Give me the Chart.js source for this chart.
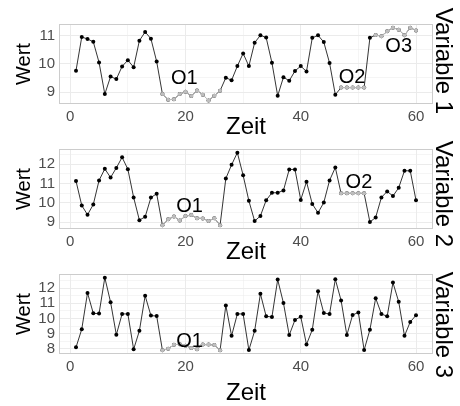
<!DOCTYPE html>
<html>
<head>
<meta charset="utf-8">
<script src="https://cdn.jsdelivr.net/npm/chart.js@4"></script>
<style>
  html, body { margin: 0; padding: 0; background: #fff; }
  #wrap { position: relative; width: 460px; height: 406px; overflow: hidden; }
  canvas { position: absolute; left: 0; }
</style>
</head>
<body>
<div id="wrap">
  <canvas id="c1" width="460" height="140" style="top:0px"></canvas>
  <canvas id="c2" width="460" height="140" style="top:125px"></canvas>
  <canvas id="c3" width="460" height="156" style="top:250px"></canvas>
</div>
<script>
// time axis
const zeit = [1,2,3,4,5,6,7,8,9,10,11,12,13,14,15,16,17,18,19,20,
              21,22,23,24,25,26,27,28,29,30,31,32,33,34,35,36,37,38,39,40,
              41,42,43,44,45,46,47,48,49,50,51,52,53,54,55,56,57,58,59,60];

// series values
const variable1 = [9.76,10.95,10.88,10.78,10.05,8.93,9.55,9.46,9.91,10.13,
                   9.88,10.82,11.13,10.89,10.08,8.93,8.73,8.75,8.93,9.01,
                   8.86,9.06,8.91,8.70,8.87,9.05,9.51,9.42,9.92,10.37,
                   9.92,10.75,11.01,10.93,10.04,8.87,9.53,9.40,9.75,9.92,
                   9.73,10.92,11.01,10.77,10.03,8.91,9.16,9.16,9.16,9.16,
                   9.16,10.92,11.02,10.98,11.15,11.28,11.21,11.01,11.28,11.18];
const variable2 = [11.13,9.86,9.38,9.91,11.16,11.76,11.31,11.81,12.36,11.74,
                   10.28,9.10,9.27,10.27,10.47,8.83,9.14,9.29,9.08,9.31,
                   9.36,9.20,9.19,9.05,9.20,8.84,11.26,11.97,12.60,11.43,
                   10.10,9.05,9.32,10.13,10.52,10.52,10.64,11.73,11.73,10.15,
                   11.09,9.94,9.48,10.01,11.16,11.83,10.49,10.49,10.49,10.49,
                   10.49,9.00,9.24,10.28,10.59,10.35,10.78,11.66,11.66,10.13];
const variable3 = [8.09,9.29,11.69,10.34,10.32,12.70,11.08,8.92,10.30,10.30,
                   7.96,9.18,11.50,10.19,10.16,7.89,8.00,8.26,8.30,8.20,
                   8.05,7.97,8.27,8.27,8.25,7.90,10.86,8.85,10.30,10.30,
                   7.91,9.18,11.63,10.14,10.10,12.57,11.02,8.90,9.90,10.12,
                   8.28,9.25,11.80,10.36,10.30,12.59,11.19,8.90,10.23,10.40,
                   7.91,9.25,11.34,10.30,10.14,12.37,11.10,8.85,9.77,10.21];

// outlier segments (start, end in Zeit)
const ausreisser1 = [[16, 26], [47, 51], [53, 60]];
const ausreisser2 = [[16, 26], [47, 51]];
const ausreisser3 = [[16, 26]];

// outlier labels
const labelText1 = ["O1", "O2", "O3"];
const labelX1 = [19.8, 48.9, 57.0];
const labelY1 = [9.49, 9.53, 10.61];
const labelText2 = ["O1", "O2"];
const labelX2 = [20.7, 50.1];
const labelY2 = [9.80, 11.05];
const labelText3 = ["O1"];
const labelX3 = [20.7];
const labelY3 = [8.50];

// axes
const xRange = [-1.95, 62.95];
const xMajor = [0, 20, 40, 60];
const xMinor = [10, 30, 50];
const yRange1 = [8.58, 11.41];
const yMajor1 = [9, 10, 11];
const yMinor1 = [9.5, 10.5];
const yRange2 = [8.64, 12.79];
const yMajor2 = [9, 10, 11, 12];
const yMinor2 = [9.5, 10.5, 11.5, 12.5];
const yRange3 = [7.65, 12.94];
const yMajor3 = [8, 9, 10, 11, 12];
const yMinor3 = [8.5, 9.5, 10.5, 11.5, 12.5];

const FONT = '"Liberation Sans", Arial, Helvetica, sans-serif';

const panelPlugin = {
    id: "panel",
    afterDatasetsDraw(chart, args, opts) {
        const { ctx, chartArea: a, scales: { x, y } } = chart;
        ctx.save();
        ctx.strokeStyle = "#cccccc";
        ctx.lineWidth = 1;
        ctx.strokeRect(a.left + 0.5, a.top + 0.5, a.right - a.left - 1, a.bottom - a.top - 1);

        ctx.fillStyle = "#000";
        ctx.textAlign = "center";
        ctx.textBaseline = "middle";
        ctx.font = "20px " + FONT;
        opts.texts.forEach((t, i) => {
            ctx.fillText(t, x.getPixelForValue(opts.xs[i]), y.getPixelForValue(opts.ys[i]));
        });

        // strip label on the right
        ctx.font = "24px " + FONT;
        ctx.translate(443, opts.stripY);
        ctx.rotate(Math.PI / 2);
        ctx.fillText(opts.strip, 0, 0);
        ctx.restore();
    }
};

function inSegments(t, segs) {
    return segs.some(s => t >= s[0] && t <= s[1]);
}

function makeChart(id, values, segs, yRange, yMajor, yMinor, texts, xs, ys, strip, stripY, xAxisHeight) {
    const main = zeit.map((t, i) => ({ x: t, y: values[i] }));
    const grey = zeit.map((t, i) => ({ x: t, y: inSegments(t, segs) ? values[i] : null }));

    return new Chart(document.getElementById(id), {
        type: "line",
        data: {
            datasets: [
                {
                    data: grey,
                    borderColor: "#bebebe",
                    backgroundColor: "#bebebe",
                    borderWidth: 1,
                    pointRadius: 2,
                    pointBorderWidth: 0,
                    spanGaps: false,
                    order: 0
                },
                {
                    data: main,
                    borderColor: "#000",
                    backgroundColor: "#000",
                    borderWidth: 0.8,
                    pointRadius: 2,
                    pointBorderWidth: 0,
                    order: 1
                }
            ]
        },
        options: {
            responsive: false,
            devicePixelRatio: 1,
            animation: false,
            events: [],
            layout: { padding: { left: 0, right: 27, top: 24, bottom: 0 } },
            plugins: {
                legend: { display: false },
                tooltip: { enabled: false },
                panel: { texts, xs, ys, strip, stripY }
            },
            scales: {
                x: {
                    type: "linear",
                    min: xRange[0],
                    max: xRange[1],
                    afterBuildTicks: s => { s.ticks = xMajor.concat(xMinor).sort((a, b) => a - b).map(v => ({ value: v })); },
                    afterFit: s => { s.height = xAxisHeight; },
                    grid: {
                        color: "#ebebeb",
                        lineWidth: c => xMinor.includes(c.tick.value) ? 0.5 : 1,
                        drawTicks: false
                    },
                    border: { display: false },
                    ticks: {
                        autoSkip: false,
                        maxRotation: 0,
                        padding: 4,
                        color: "#4d4d4d",
                        font: { family: FONT, size: 15 },
                        callback: v => xMajor.includes(v) ? String(v) : ""
                    },
                    title: {
                        display: true,
                        text: "Zeit",
                        color: "#000",
                        font: { family: FONT, size: 24 },
                        padding: { top: 0, bottom: -2 }
                    }
                },
                y: {
                    type: "linear",
                    min: yRange[0],
                    max: yRange[1],
                    afterBuildTicks: s => { s.ticks = yMajor.concat(yMinor).sort((a, b) => a - b).map(v => ({ value: v })); },
                    afterFit: s => { s.width = 59; },
                    grid: {
                        color: "#ebebeb",
                        lineWidth: c => yMinor.includes(c.tick.value) ? 0.5 : 1,
                        drawTicks: false
                    },
                    border: { display: false },
                    ticks: {
                        autoSkip: false,
                        padding: 4,
                        color: "#4d4d4d",
                        font: { family: FONT, size: 15 },
                        callback: v => yMajor.includes(v) ? String(v) : ""
                    },
                    title: {
                        display: true,
                        text: "Wert",
                        color: "#000",
                        font: { family: FONT, size: 20 },
                        padding: { top: 12, bottom: 0 }
                    }
                }
            }
        },
        plugins: [panelPlugin]
    });
}

makeChart("c1", variable1, ausreisser1, yRange1, yMajor1, yMinor1, labelText1, labelX1, labelY1, "Variable 1", 61, 36);
makeChart("c2", variable2, ausreisser2, yRange2, yMajor2, yMinor2, labelText2, labelX2, labelY2, "Variable 2", 69, 36);
makeChart("c3", variable3, ausreisser3, yRange3, yMajor3, yMinor3, labelText3, labelX3, labelY3, "Variable 3", 75, 52);
</script>
</body>
</html>
